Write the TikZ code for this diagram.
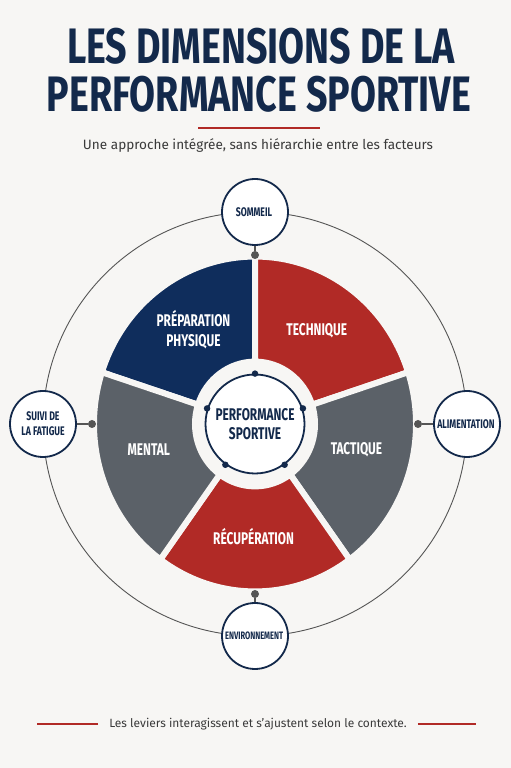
\documentclass[tikz,border=0pt]{standalone}
\usepackage{fontspec}
\setmainfont{Fira Sans}
\newfontfamily\condfont[FakeStretch=0.7]{Fira Sans}
\newfontfamily\titlefont[FakeStretch=0.755]{Fira Sans}
\definecolor{navy}{HTML}{13294B}
\definecolor{navysec}{HTML}{0F2D5C}
\definecolor{redsec}{HTML}{B12A26}
\definecolor{graysec}{HTML}{5B6168}
\definecolor{bg}{HTML}{F7F6F4}
\definecolor{linegray}{HTML}{555555}
\definecolor{textgray}{HTML}{3A3A3A}

\begin{document}
\begin{tikzpicture}[x=1bp, y=1bp
	, every node/.style={inner sep=0pt}
	, sector/.style={draw=bg, line width=6bp}
	, seclabel/.style={text=white, align=center
		, font=\condfont\bfseries\fontsize{17}{20}\selectfont}
	, satellite/.style={circle, draw=navy, line width=1.8bp, fill=white
		, minimum size=66bp, text=navy, align=center
		, font=\condfont\bfseries\fontsize{12.5}{15}\selectfont}
	, dot/.style={circle, fill=linegray, minimum size=8bp}
	, hub/.style={circle, fill=navy, minimum size=6.5bp}
]

\fill[bg] (0,0) rectangle (511,768);
\coordinate (c) at (255,344);

% title
\node[text=navy, font=\titlefont\bfseries\fontsize{50}{56}\selectfont] (title1) at (261,722) {LES DIMENSIONS DE LA};
\node[text=navy, font=\titlefont\bfseries\fontsize{50}{56}\selectfont] (title2) at (259,674) {PERFORMANCE SPORTIVE};
\draw[redsec, line width=1.5bp] (198,640) -- (320,640);
\node[text=textgray, font=\fontsize{13.6}{16}\selectfont] (sub) at (258,622) {Une approche intégrée, sans hiérarchie entre les facteurs};

\draw[linegray, line width=0.9bp] (c) circle (212);

% sectors
\begin{scope}[shift={(c)}]
\foreach \a/\col/\rad/\ang/\lbl [count=\i] in {
	90/navysec/113/123/PRÉPARATION\\PHYSIQUE
	, 18/redsec/113/56/TECHNIQUE
	, -54/graysec/106/-14/TACTIQUE
	, -126/redsec/113/-90/RÉCUPÉRATION
	, 162/graysec/108/194/MENTAL
}{
	\filldraw[sector, fill=\col, yscale=1.04] (\a:60) arc[start angle=\a, end angle=\a+72, radius=60]
		-- (\a+72:161) arc[start angle=\a+72, end angle=\a, radius=161] -- cycle;
	\node[seclabel] (s\i) at (\ang:\rad) {\lbl};
}
\end{scope}

% centre
\node[circle, fill=bg, minimum size=118bp] (ring) at (c) {};
\node[circle, draw=navy, line width=1.8bp, fill=white, minimum size=99bp
	, text=navy, align=center
	, font=\condfont\bfseries\fontsize{17}{19}\selectfont] (perf) at (c) {PERFORMANCE\\SPORTIVE};
\foreach \a in {90,18,-54,-126,162}{
	\node[hub] at (perf.\a) {};
}

% levers
\begin{scope}[shift={(c)}]
\foreach \nm/\ang/\d/\lbl in {
	sommeil/90/169/SOMMEIL
	, aliment/0/163/ALIMENTATION
	, environ/-90/170/\fontsize{10.8}{13}\selectfont ENVIRONNEMENT
	, suivi/180/163/SUIVI DE\\LA FATIGUE
}{
	\node[dot] (d\nm) at (\ang:\d) {};
	\node[satellite] (\nm) at (\ang:212) {\lbl};
	\draw[linegray, line width=1.2bp] (\nm) -- (d\nm);
}
\end{scope}

% footer
\node[text=textgray, font=\fontsize{12}{14}\selectfont] (foot) at (258,44) {Les leviers interagissent et s’ajustent selon le contexte.};
\draw[redsec, line width=1.2bp] ([xshift=-11bp]foot.west) -- ++(-61,0);
\draw[redsec, line width=1.2bp] ([xshift=11bp]foot.east) -- ++(58,0);

\end{tikzpicture}
\end{document}
